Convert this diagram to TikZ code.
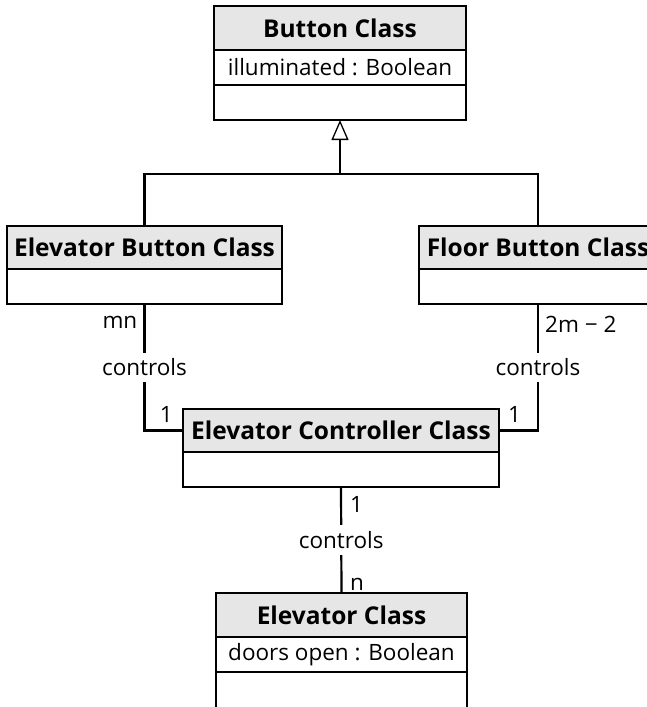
\documentclass[tikz,border=0pt]{standalone}
\usepackage{fontspec}
\setmainfont{Open Sans}
\usetikzlibrary{arrows.meta}
\definecolor{hdrgray}{RGB}{230,230,230}
\tikzset{
  box/.style={draw, line width=1.3pt, rectangle, inner sep=0pt, outer sep=0pt},
  hdr/.style={box, fill=hdrgray, font=\fontsize{24.5}{28}\selectfont\bfseries},
  cell/.style={box, fill=white, font=\fontsize{22.5}{26}\selectfont},
  conn/.style={line width=2.2pt},
  lbl/.style={font=\fontsize{22.5}{26}\selectfont, inner sep=1pt},
  assoc/.style={lbl, fill=white, inner xsep=2pt, inner ysep=6pt},
}
\begin{document}
\begin{tikzpicture}[x=1pt,y=-1pt]
\useasboundingbox (0,0) rectangle (647,707);
% Button Class
\node[hdr, minimum width=252pt, minimum height=44pt] (btn) at (340,28) {Button Class};
\node[cell, minimum width=252pt, minimum height=35pt] (btnattr) at (340,67.5) {illuminated : Boolean};
\node[cell, minimum width=252pt, minimum height=35pt] (btnops) at (340,102.5) {};
% Elevator Button Class
\node[hdr, minimum width=275pt, minimum height=43pt] (eb) at (144.5,247.5) {Elevator Button Class};
\node[cell, minimum width=275pt, minimum height=35pt] (ebops) at (144.5,286.5) {};
% Floor Button Class
\node[hdr, minimum width=238pt, minimum height=43pt] (fb) at (538,247.5) {Floor Button Class};
\node[cell, minimum width=238pt, minimum height=35pt] (fbops) at (538,286.5) {};
% Elevator Controller Class
\node[hdr, minimum width=316pt, minimum height=43pt] (ec) at (341,430.5) {Elevator Controller Class};
\node[cell, minimum width=316pt, minimum height=35pt] (ecops) at (341,469.5) {};
% Elevator Class
\node[hdr, minimum width=251pt, minimum height=44pt] (el) at (341.5,615) {Elevator Class};
\node[cell, minimum width=251pt, minimum height=35pt] (elattr) at (341.5,654.5) {doors open : Boolean};
\node[cell, minimum width=251pt, minimum height=40pt] (elops) at (341.5,692) {};
% generalization
\coordinate (jn) at (340,174);
\draw[conn] (eb.north) |- (jn) -| (fb.north);
\draw[conn, -{Triangle[open, width=17pt, length=20pt, line width=1.3pt]}] (jn) -- (btnops.south);
% associations
\draw[conn] (ebops.south) |- node[assoc, pos=0.25] (c1) {controls} (ec.west);
\draw[conn] (fbops.south) |- node[assoc, pos=0.25] (c2) {controls} (ec.east);
\draw[conn] (ecops.south) -- node[assoc] (c3) {controls} (el.north);
% multiplicities
\node[lbl, anchor=base east] (m1) at ([xshift=-6pt, yshift=-24pt]ebops.south) {mn};
\node[lbl, anchor=base east] (m2) at ([xshift=-9pt, yshift=8.5pt]ec.west) {1};
\node[lbl, anchor=base west] (m3) at ([xshift=6pt, yshift=-28pt]fbops.south) {2m − 2};
\node[lbl, anchor=base west] (m4) at ([xshift=8pt, yshift=8.5pt]ec.east) {1};
\node[lbl, anchor=base west] (m5) at ([xshift=8pt, yshift=-25pt]ecops.south) {1};
\node[lbl, anchor=base west] (m6) at ([xshift=7.5pt, yshift=3pt]el.north) {n};
\end{tikzpicture}
\end{document}
